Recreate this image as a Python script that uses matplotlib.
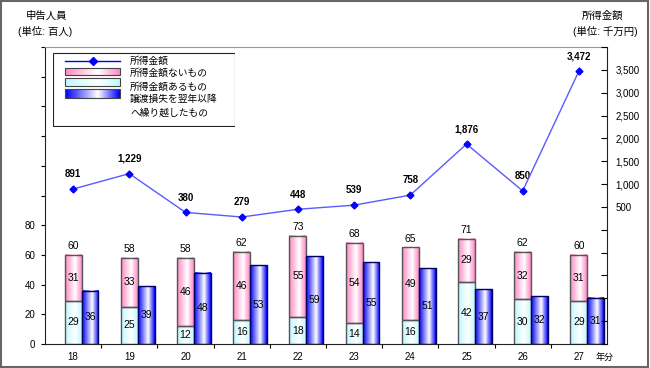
import numpy as np
import matplotlib
matplotlib.use('Agg')
import matplotlib.pyplot as plt
from matplotlib.colors import LinearSegmentedColormap, to_rgb
from matplotlib.patches import Rectangle
from matplotlib.lines import Line2D

plt.rcParams['font.family'] = ['Liberation Sans', 'Noto Sans CJK JP']

# data
years = ['18', '19', '20', '21', '22', '23', '24', '25', '26', '27']
shotoku_gaku = [891, 1229, 380, 279, 448, 539, 758, 1876, 850, 3472]   # 千万円
nai_mono = [31, 33, 46, 46, 55, 54, 49, 29, 32, 31]                  # 百人
aru_mono = [29, 25, 12, 16, 18, 14, 16, 42, 30, 29]
kurikoshi = [36, 39, 48, 53, 59, 55, 51, 37, 32, 31]

legend_labels = ['所得金額', '所得金額ないもの', '所得金額あるもの',
                 '譲渡損失を翌年以降\nへ繰り越したもの']

PINK = '#ff88c4'
CYAN = '#bff8ff'
BLUE = '#0000ff'


def grad_cmap(c):
    return LinearSegmentedColormap.from_list('g', [(0, c), (0.6, 'white'), (1, c)])


def fill_grad(ax, patches, color, z):
    cm = grad_cmap(color)
    g = np.linspace(0, 1, 64)[None, :]
    for p in patches:
        x0 = p.get_x(); w = p.get_width()
        y0 = p.get_y(); h = p.get_height()
        ax.imshow(g, extent=(x0, x0 + w, y0, y0 + h), aspect='auto', cmap=cm,
                  zorder=z, interpolation='bilinear')


fig = plt.figure(figsize=(6.5, 3.68), dpi=100)
ax = fig.add_axes([45/650, 24/368, 562/650, 297/368])

x = np.arange(len(years))
aru = np.array(aru_mono)
nai = np.array(nai_mono)
tot = aru + nai
w = 0.3

b1 = ax.bar(x, aru, w, facecolor='none', edgecolor='#555555', lw=1, zorder=3)
b2 = ax.bar(x, nai, w, bottom=aru, facecolor='none', edgecolor='#555555', lw=1, zorder=3)
b3 = ax.bar(x + w, kurikoshi, w, facecolor='none', edgecolor='#000060', lw=1, zorder=3)
fill_grad(ax, b1, CYAN, 2)
fill_grad(ax, b2, PINK, 2)
fill_grad(ax, b3, BLUE, 2)

for i in range(len(x)):
    ax.text(x[i], aru[i] / 2, str(aru[i]), ha='center', va='center', fontsize=7.5, zorder=5)
    ax.text(x[i], aru[i] + nai[i] / 2, str(nai[i]), ha='center', va='center', fontsize=7.5, zorder=5)
    ax.text(x[i], tot[i] + 2.5, str(tot[i]), ha='center', va='bottom', fontsize=7.5, zorder=5)
    ax.text(x[i] + w, kurikoshi[i] / 2, str(kurikoshi[i]), ha='center', va='center',
            fontsize=7.5, zorder=5)

ax.set_xlim(-0.5, len(years) - 0.5)
ax.set_ylim(0, 200)
ax.set_yticks(np.arange(0, 201, 20))
ax.set_yticklabels([str(v) if v <= 80 else '' for v in range(0, 201, 20)])
ax.set_xticks(x)
ax.set_xticklabels(years)
ax.set_xticks(np.arange(0.5, len(years) - 0.5, 1), minor=True)
ax.tick_params(axis='x', which='major', length=0, labelsize=7, pad=6)
ax.tick_params(axis='x', which='minor', length=3, width=0.8)
ax.tick_params(axis='y', length=3, width=0.8, labelsize=7, pad=4)
ax.spines['top'].set_color('#999999')
for s in ['left', 'bottom']:
    ax.spines[s].set_color('#222222')
ax.spines['right'].set_visible(False)

ax2 = ax.twinx()
ax2.plot(x, shotoku_gaku, color='#5a5aff', lw=1, marker='D', ms=3.5,
         mfc=BLUE, mec=BLUE, zorder=4)
for i in range(len(x)):
    ax2.annotate(f'{shotoku_gaku[i]:,}', (x[i], shotoku_gaku[i]), xytext=(0, 7),
                 textcoords='offset points', ha='center', va='bottom',
                 fontsize=7, fontweight='bold')
ax2.set_ylim(-2500, 4000)
ax2.set_yticks(np.arange(-2500, 4001, 500))
ax2.set_yticklabels([f'{v:,}' if 500 <= v <= 3500 else '' for v in range(-2500, 4001, 500)])
ax2.tick_params(axis='y', direction='in', length=4, width=0.8, labelsize=7, pad=6)
ax2.spines['right'].set_color('#222222')
ax2.spines['top'].set_visible(False)
ax2.spines['left'].set_visible(False)
ax2.spines['bottom'].set_visible(False)

# header texts
fig.text(47/650, 1 - 16/368, '申告人員', ha='center', va='center', fontsize=7.5)
fig.text(45/650, 1 - 31/368, '(単位: 百人)', ha='center', va='center', fontsize=7.5)
fig.text(603/650, 1 - 16/368, '所得金額', ha='center', va='center', fontsize=7.5)
fig.text(605/650, 1 - 31/368, '(単位: 千万円)', ha='center', va='center', fontsize=7.5)
fig.text(605/650, 1 - 357/368, '年分', ha='center', va='center', fontsize=6.5)

# legend
lax = fig.add_axes([53/650, 1 - 127/368, 182/650, 75/368])
lax.axis('off')
lax.add_patch(Rectangle((0.5, 0.5), 181, 74, facecolor='white', edgecolor='#222222',
                        lw=0.8, zorder=0))
lax.add_line(Line2D([12, 67], [9, 9], color=BLUE, lw=1, zorder=2))
lax.plot([40], [9], marker='D', ms=4, color=BLUE, zorder=3)
g = np.linspace(0, 1, 64)[None, :]
for (y0, y1), c in zip([(16, 23), (26, 34), (37, 46)], [PINK, CYAN, BLUE]):
    lax.imshow(g, extent=(12, 67, y1, y0), aspect='auto', cmap=grad_cmap(c),
               interpolation='bilinear', zorder=2)
    lax.add_patch(Rectangle((12, y0), 55, y1 - y0, facecolor='none', edgecolor='#444444',
                            lw=0.8, zorder=3))
lax.set_xlim(0, 182)
lax.set_ylim(75, 0)
for lab, yy in zip(legend_labels, [9, 21, 35, 54]):
    lax.text(77, yy, lab, ha='left', va='center', fontsize=7, linespacing=1.5, zorder=3)

fig.patches.append(Rectangle((0.002, 0.003), 0.995, 0.994, transform=fig.transFigure,
                             fill=False, edgecolor='#666666', lw=1.5))

fig.savefig('out.png', dpi=100)
